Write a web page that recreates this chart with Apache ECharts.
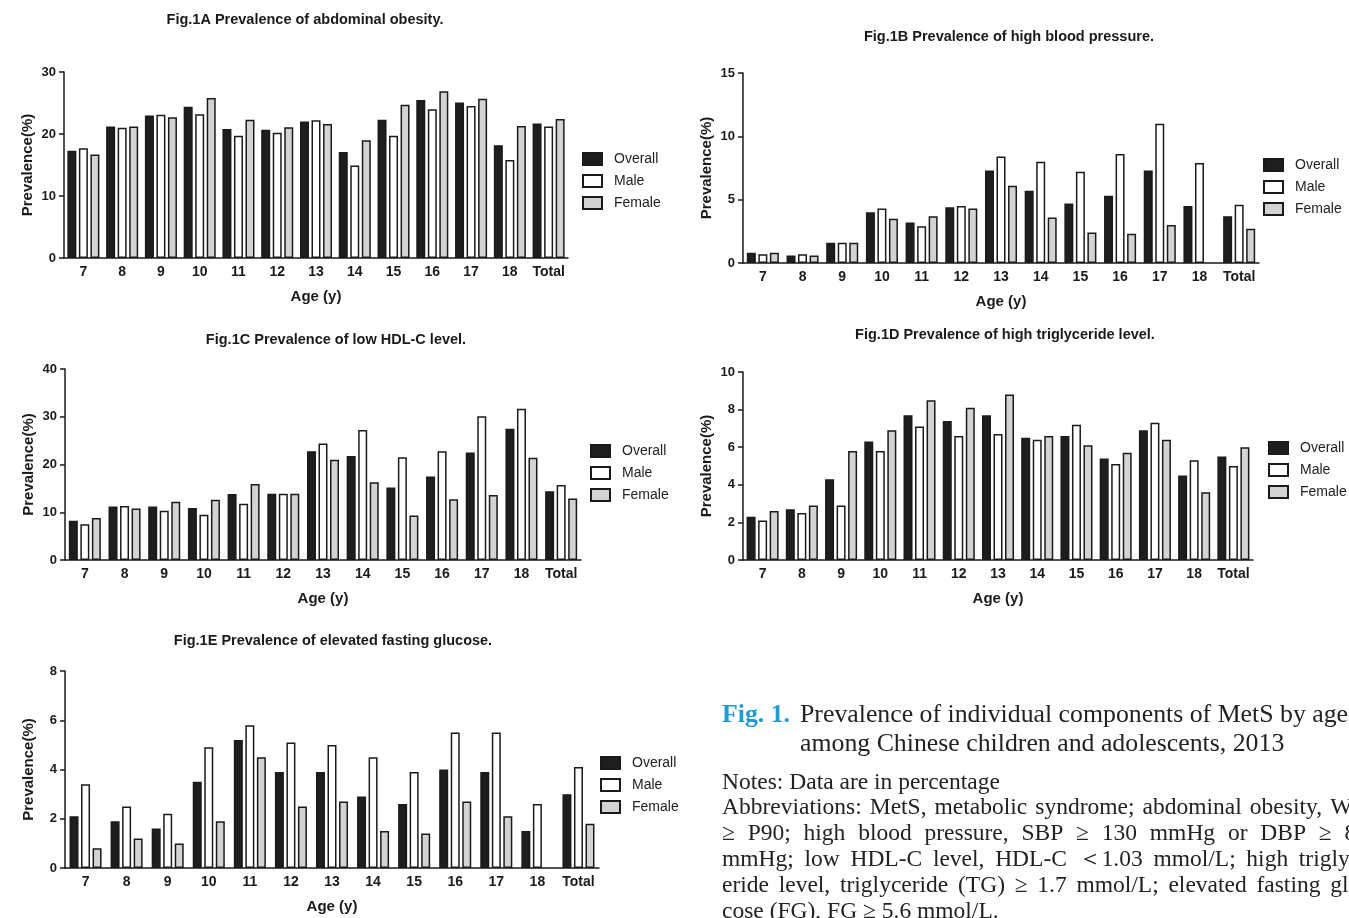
<!DOCTYPE html>
<html>
<head>
<meta charset="utf-8">
<title>Fig. 1 Prevalence of individual components of MetS</title>
<script src="https://cdn.jsdelivr.net/npm/echarts@6/dist/echarts.min.js"></script>
<style>
  html, body { margin: 0; padding: 0; background: #fff; }
  #main { width: 1349px; height: 918px; }
</style>
</head>
<body>
<div id="main"></div>
<script>
// categories
const ages = ["7", "8", "9", "10", "11", "12", "13", "14", "15", "16", "17", "18", "Total"];
const groups = ["Overall", "Male", "Female"];

// Fig.1A abdominal obesity
const obesityOverall = [17.3, 21.2, 23.0, 24.4, 20.8, 20.7, 22.0, 17.1, 22.3, 25.5, 25.1, 18.2, 21.7];
const obesityMale    = [17.7, 21.0, 23.1, 23.2, 19.7, 20.2, 22.2, 14.9, 19.7, 24.0, 24.5, 15.8, 21.2];
const obesityFemale  = [16.7, 21.2, 22.7, 25.8, 22.3, 21.1, 21.6, 19.0, 24.7, 26.9, 25.7, 21.3, 22.4];

// Fig.1B high blood pressure
const bpOverall = [0.8, 0.6, 1.6, 4.0, 3.2, 4.4, 7.3, 5.7, 4.7, 5.3, 7.3, 4.5, 3.7];
const bpMale    = [0.7, 0.7, 1.6, 4.3, 2.9, 4.5, 8.4, 8.0, 7.2, 8.6, 11.0, 7.9, 4.6];
const bpFemale  = [0.8, 0.6, 1.6, 3.5, 3.7, 4.3, 6.1, 3.6, 2.4, 2.3, 3.0, null, 2.7];

// Fig.1C low HDL-C
const hdlOverall = [8.2, 11.2, 11.2, 10.9, 13.8, 13.9, 22.8, 21.8, 15.2, 17.5, 22.5, 27.5, 14.4];
const hdlMale    = [7.5, 11.3, 10.3, 9.5, 11.8, 13.9, 24.4, 27.2, 21.5, 22.8, 30.1, 31.7, 15.7];
const hdlFemale  = [8.8, 10.8, 12.2, 12.6, 15.9, 13.9, 21.0, 16.3, 9.3, 12.7, 13.6, 21.4, 12.9];

// Fig.1D high triglyceride
const tgOverall = [2.3, 2.7, 4.3, 6.3, 7.7, 7.4, 7.7, 6.5, 6.6, 5.4, 6.9, 4.5, 5.5];
const tgMale    = [2.1, 2.5, 2.9, 5.8, 7.1, 6.6, 6.7, 6.4, 7.2, 5.1, 7.3, 5.3, 5.0];
const tgFemale  = [2.6, 2.9, 5.8, 6.9, 8.5, 8.1, 8.8, 6.6, 6.1, 5.7, 6.4, 3.6, 6.0];

// Fig.1E elevated fasting glucose
const fgOverall = [2.1, 1.9, 1.6, 3.5, 5.2, 3.9, 3.9, 2.9, 2.6, 4.0, 3.9, 1.5, 3.0];
const fgMale    = [3.4, 2.5, 2.2, 4.9, 5.8, 5.1, 5.0, 4.5, 3.9, 5.5, 5.5, 2.6, 4.1];
const fgFemale  = [0.8, 1.2, 1.0, 1.9, 4.5, 2.5, 2.7, 1.5, 1.4, 2.7, 2.1, null, 1.8];

// y axis ticks: min, max, interval
const obesityTicks = [0, 30, 10];
const bpTicks = [0, 15, 5];
const hdlTicks = [0, 40, 10];
const tgTicks = [0, 10, 2];
const fgTicks = [0, 8, 2];

const panels = [
  { title: "Fig.1A Prevalence of abdominal obesity.", data: [obesityOverall, obesityMale, obesityFemale], ticks: obesityTicks,
    grid: { left: 64, top: 72, width: 504, height: 186 }, titlePos: [305, 12], legendPos: [582, 152] },
  { title: "Fig.1B Prevalence of high blood pressure.", data: [bpOverall, bpMale, bpFemale], ticks: bpTicks,
    grid: { left: 743, top: 73, width: 516, height: 190 }, titlePos: [1009, 29], legendPos: [1263, 158] },
  { title: "Fig.1C Prevalence of low HDL-C level.", data: [hdlOverall, hdlMale, hdlFemale], ticks: hdlTicks,
    grid: { left: 65, top: 369, width: 516, height: 191 }, titlePos: [336, 332], legendPos: [590, 444] },
  { title: "Fig.1D Prevalence of high triglyceride level.", data: [tgOverall, tgMale, tgFemale], ticks: tgTicks,
    grid: { left: 743, top: 372, width: 510, height: 188 }, titlePos: [1005, 327], legendPos: [1268, 441] },
  { title: "Fig.1E Prevalence of elevated fasting glucose.", data: [fgOverall, fgMale, fgFemale], ticks: fgTicks,
    grid: { left: 65, top: 671, width: 534, height: 197 }, titlePos: [333, 633], legendPos: [600, 756] }
];

const barColors = ["#1e1e1e", "#ffffff", "#d3d3d3"];
const ink = "#1a1a1a";
const sans = "Liberation Sans, Arial, sans-serif";
const serif = "Liberation Serif, Times New Roman, serif";

const chart = echarts.init(document.getElementById("main"));

const option = {
  backgroundColor: "#fff",
  animation: false,
  grid: [],
  xAxis: [],
  yAxis: [],
  legend: [],
  series: [],
  graphic: []
};

panels.forEach((p, i) => {
  option.grid.push(Object.assign({ containLabel: false }, p.grid));
  option.xAxis.push({
    type: "category",
    gridIndex: i,
    data: ages,
    name: "Age (y)",
    nameLocation: "middle",
    nameGap: 31,
    nameTextStyle: { fontFamily: sans, fontWeight: "bold", fontSize: 15, color: ink },
    axisLine: { lineStyle: { color: ink, width: 1.5 } },
    axisTick: { alignWithLabel: true, length: 5, lineStyle: { color: ink, width: 1.5 } },
    axisLabel: { fontFamily: sans, fontWeight: "bold", fontSize: 14, color: ink, margin: 7, interval: 0 },
    splitLine: { show: false }
  });
  option.yAxis.push({
    type: "value",
    gridIndex: i,
    min: p.ticks[0],
    max: p.ticks[1],
    interval: p.ticks[2],
    name: "Prevalence(%)",
    nameLocation: "middle",
    nameGap: 29,
    nameTextStyle: { fontFamily: sans, fontWeight: "bold", fontSize: 15, color: ink },
    axisLine: { show: true, lineStyle: { color: ink, width: 1.5 } },
    axisTick: { show: true, length: 5, lineStyle: { color: ink, width: 1.5 } },
    axisLabel: { fontFamily: sans, fontWeight: "bold", fontSize: 13, color: ink, margin: 8 },
    splitLine: { show: false }
  });
  groups.forEach((g, k) => {
    option.series.push({
      name: g,
      type: "bar",
      xAxisIndex: i,
      yAxisIndex: i,
      data: p.data[k],
      barWidth: 9,
      barGap: "28%",
      itemStyle: { color: barColors[k], borderColor: ink, borderWidth: 1.5 }
    });
  });
  option.legend.push({
    data: groups,
    orient: "vertical",
    left: p.legendPos[0],
    top: p.legendPos[1],
    padding: 0,
    icon: "rect",
    itemWidth: 19,
    itemHeight: 12,
    itemGap: 8,
    selectedMode: false,
    textStyle: { fontFamily: sans, fontSize: 14, color: "#222", padding: [0, 0, 0, 7] }
  });
  option.graphic.push({
    type: "text",
    x: p.titlePos[0],
    y: p.titlePos[1],
    style: { text: p.title, fill: ink, font: "bold 14.5px " + sans, textAlign: "center" }
  });
});

// caption and notes
const capBlue = "#1e9bd7";
const capFont = "25.8px " + serif;
option.graphic.push(
  { type: "text", x: 722, y: 702, style: { text: "Fig. 1.", fill: capBlue, font: "bold 25.8px " + serif } },
  { type: "text", x: 800, y: 702, style: { text: "Prevalence of individual components of MetS by age", fill: "#222", font: capFont } },
  { type: "text", x: 800, y: 731, style: { text: "among Chinese children and adolescents, 2013", fill: "#222", font: capFont } },
  { type: "text", x: 722, y: 771, style: { text: "Notes: Data are in percentage", fill: "#222", font: "23.5px " + serif } }
);

const noteLines = [
  "Abbreviations: MetS, metabolic syndrome; abdominal obesity, WC",
  "\u2265 P90; high blood pressure, SBP \u2265 130 mmHg or DBP \u2265 85",
  "mmHg; low HDL-C level, HDL-C \uFF1C1.03 mmol/L; high triglyc-",
  "eride level, triglyceride (TG) \u2265 1.7 mmol/L; elevated fasting glu-",
  "cose (FG), FG \u2265 5.6 mmol/L."
];
const noteFont = "23.5px " + serif;
const measureCtx = document.createElement("canvas").getContext("2d");
measureCtx.font = noteFont;
const noteRight = 1368;
noteLines.forEach((line, n) => {
  const y = 796 + n * 26;
  const words = line.split(" ");
  const last = n === noteLines.length - 1;
  const widths = words.map(w => measureCtx.measureText(w).width);
  const total = widths.reduce((a, b) => a + b, 0);
  const natural = measureCtx.measureText(" ").width;
  const space = last ? natural : Math.max(natural * 0.8, (noteRight - 722 - total) / (words.length - 1));
  let x = 722;
  words.forEach((w, k) => {
    option.graphic.push({ type: "text", x: x, y: y, style: { text: w, fill: "#222", font: noteFont } });
    x += widths[k] + space;
  });
});

chart.setOption(option);
</script>
</body>
</html>
